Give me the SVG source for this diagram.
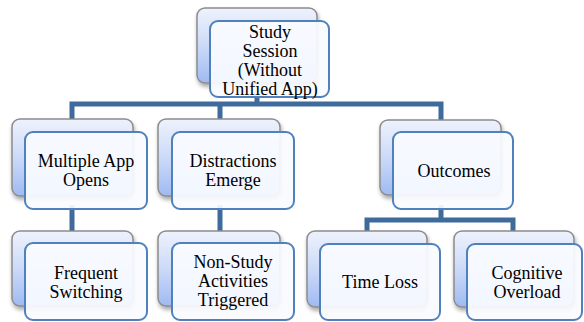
<svg xmlns="http://www.w3.org/2000/svg" width="584" height="322" viewBox="0 0 584 322">
<defs>
<linearGradient id="gBack" x1="0" y1="0" x2="0" y2="1">
<stop offset="0" stop-color="#eef2fc"/>
<stop offset="0.5" stop-color="#ccdaf8"/>
<stop offset="1" stop-color="#9fbaf2"/>
</linearGradient>
<filter id="sh" x="-20%" y="-20%" width="140%" height="140%">
<feGaussianBlur in="SourceAlpha" stdDeviation="2"/>
<feOffset dx="1" dy="3" result="b"/>
<feComponentTransfer><feFuncA type="linear" slope="0.35"/></feComponentTransfer>
<feMerge><feMergeNode/><feMergeNode in="SourceGraphic"/></feMerge>
</filter>
</defs>
<style>
.back{fill:url(#gBack);stroke:#8c8c8c;stroke-width:1.5;filter:url(#sh)}
.front{fill:#f9fbff;fill-opacity:0.93;stroke:#4f81bd;stroke-width:2}
.conn{fill:none;stroke:#3f6a9c;stroke-width:5;stroke-linejoin:miter}
text{font-family:"Liberation Serif","Times New Roman",serif;font-size:18px;fill:#000;text-anchor:middle}
</style>
<rect width="584" height="322" fill="#ffffff"/>
<g id="connectors">
<path class="conn" d="M257 95 V104 M72 125 V104 H441 V125 M220 104 V125"/>
<path class="conn" d="M72 205 V235"/>
<path class="conn" d="M220 205 V235"/>
<path class="conn" d="M441 205 V220 M367 235 V220 H513 V235"/>
</g>
<g id="n-study">
<rect class="back" x="197" y="8" width="120" height="75" rx="8"/>
<rect class="front" x="210" y="21" width="119" height="76" rx="8"/>
<text x="270" y="38">Study</text>
<text x="270" y="57">Session</text>
<text x="270" y="76">(Without</text>
<text x="270" y="95">Unified App)</text>
</g>
<g id="n-multiple">
<rect class="back" x="12" y="119" width="121" height="77" rx="8"/>
<rect class="front" x="25" y="132" width="122" height="77" rx="8"/>
<text x="86" y="167">Multiple App</text>
<text x="86" y="186">Opens</text>
</g>
<g id="n-distractions">
<rect class="back" x="158" y="119" width="122" height="77" rx="8"/>
<rect class="front" x="172" y="132" width="122" height="77" rx="8"/>
<text x="233" y="167">Distractions</text>
<text x="233" y="186">Emerge</text>
</g>
<g id="n-outcomes">
<rect class="back" x="380" y="120" width="121" height="75" rx="8"/>
<rect class="front" x="393" y="132" width="120" height="77" rx="8"/>
<text x="454" y="177">Outcomes</text>
</g>
<g id="n-frequent">
<rect class="back" x="12" y="231" width="121" height="75" rx="8"/>
<rect class="front" x="25" y="243" width="122" height="77" rx="8"/>
<text x="86" y="279">Frequent</text>
<text x="86" y="298">Switching</text>
</g>
<g id="n-nonstudy">
<rect class="back" x="158" y="231" width="122" height="75" rx="8"/>
<rect class="front" x="172" y="243" width="122" height="77" rx="8"/>
<text x="233" y="268">Non-Study</text>
<text x="233" y="287">Activities</text>
<text x="233" y="306">Triggered</text>
</g>
<g id="n-timeloss">
<rect class="back" x="307" y="231" width="120" height="76" rx="8"/>
<rect class="front" x="320" y="244" width="120" height="76" rx="8"/>
<text x="380" y="288">Time Loss</text>
</g>
<g id="n-cognitive">
<rect class="back" x="454" y="231" width="120" height="76" rx="8"/>
<rect class="front" x="467" y="244" width="115" height="76" rx="8"/>
<text x="527" y="279">Cognitive</text>
<text x="527" y="298">Overload</text>
</g>
</svg>
